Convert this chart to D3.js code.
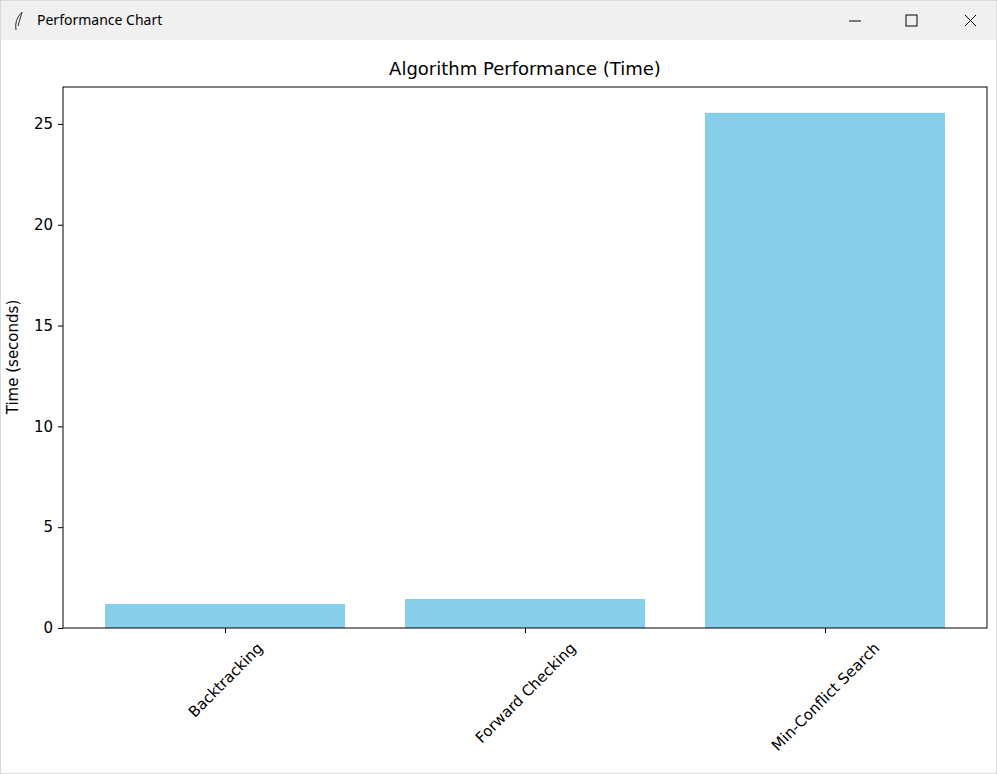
<!DOCTYPE html>
<html><head><meta charset="utf-8">
<script src="https://cdn.jsdelivr.net/npm/d3@7"></script>
<style>body{margin:0;background:#fff;font-family:"DejaVu Sans",sans-serif}</style>
</head><body>
<svg id="chart" width="997" height="774"></svg>
<script>
var categories = ["Backtracking", "Forward Checking", "Min-Conflict Search"];
var times = [1.19, 1.44, 25.55];
var yTicks = [0, 5, 10, 15, 20, 25];

var svg = d3.select("#chart");

// window frame
svg.append("rect").attr("x", 0).attr("y", 0).attr("width", 997).attr("height", 774)
   .attr("fill", "#fff").attr("stroke", "#b8b8b8");
svg.append("rect").attr("x", 1).attr("y", 1).attr("width", 995).attr("height", 39).attr("fill", "#f0f0f0");
svg.append("text").attr("x", 37).attr("y", 25).attr("font-size", 14)
   .attr("font-family", "Segoe UI, Noto Sans, sans-serif").text("Performance Chart");
svg.append("path").attr("d", "M22,12 Q14,20 16,30 M22,12 L18,26").attr("stroke", "#333").attr("fill", "none");
svg.append("line").attr("x1", 849).attr("x2", 861).attr("y1", 21).attr("y2", 21).attr("stroke", "#000");
svg.append("rect").attr("x", 906).attr("y", 15).attr("width", 11).attr("height", 11).attr("fill", "none").attr("stroke", "#000");
svg.append("path").attr("d", "M965,15 L976,26 M976,15 L965,26").attr("stroke", "#000");

var pLeft = 63, pRight = 987, pTop = 87, pBottom = 628;
var x = d3.scaleLinear().domain([-0.54, 2.54]).range([pLeft, pRight]);
var y = d3.scaleLinear().domain([0, 26.83]).range([pBottom, pTop]);

svg.selectAll("rect.bar").data(times).enter().append("rect")
   .attr("class", "bar")
   .attr("x", function(d, i) { return x(i - 0.4); })
   .attr("width", function(d, i) { return x(i + 0.4) - x(i - 0.4); })
   .attr("y", function(d) { return y(d); })
   .attr("height", function(d) { return pBottom - y(d); })
   .attr("fill", "#87ceeb");

var yAxis = svg.append("g").attr("transform", "translate(" + pLeft + ",0)")
   .call(d3.axisLeft(y).tickValues(yTicks).tickSize(5).tickPadding(5));
var xAxis = svg.append("g").attr("transform", "translate(0," + pBottom + ")")
   .call(d3.axisBottom(x).tickValues([0, 1, 2]).tickSize(5).tickFormat(function(i) { return categories[i]; }));
[yAxis, xAxis].forEach(function(a) {
  a.select(".domain").remove();
  a.selectAll("text").attr("font-size", 15).attr("font-family", "DejaVu Sans, sans-serif").attr("fill", "#000");
  a.selectAll("line").attr("stroke", "#000");
});
// matplotlib rotation=45, ha=center: rotated bbox centered under tick
xAxis.selectAll("text").each(function() {
  var t = d3.select(this);
  var w = this.getComputedTextLength();
  var h = (w + 15) * Math.SQRT1_2;
  t.attr("text-anchor", "middle").attr("y", 0).attr("dy", "0.35em")
   .attr("transform", "translate(0," + (12 + h / 2) + ") rotate(-45)");
});

svg.append("rect").attr("x", pLeft).attr("y", pTop).attr("width", pRight - pLeft).attr("height", pBottom - pTop)
   .attr("fill", "none").attr("stroke", "#000");

svg.append("text").attr("x", (pLeft + pRight) / 2).attr("y", 75).attr("text-anchor", "middle")
   .attr("font-size", 18).text("Algorithm Performance (Time)");
svg.append("text").attr("transform", "translate(18,357) rotate(-90)").attr("text-anchor", "middle")
   .attr("font-size", 15).text("Time (seconds)");
</script>
</body></html>
